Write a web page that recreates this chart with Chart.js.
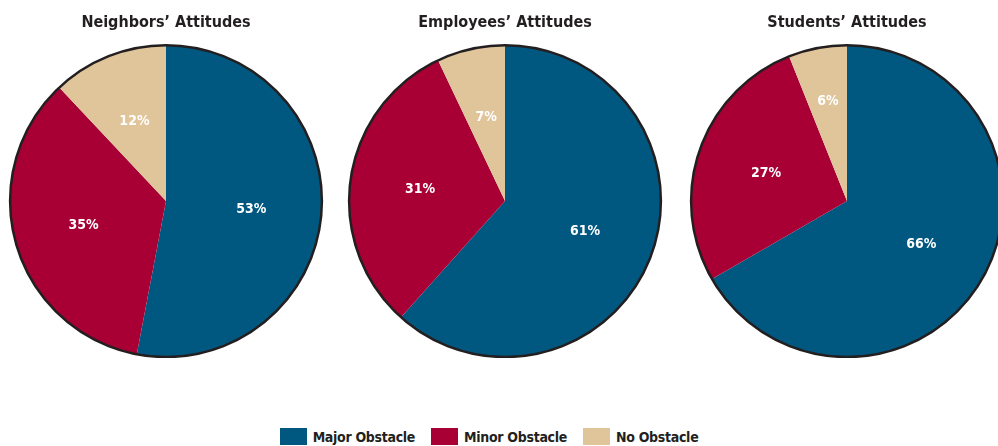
<!DOCTYPE html>
<html lang="en">
<head>
  <meta charset="UTF-8">
  <title>Attitudes</title>
  <script src="https://cdn.jsdelivr.net/npm/chart.js"></script>
  <style>
    body {
      margin: 0;
      width: 998px;
      height: 446px;
      overflow: hidden;
      background: #fff;
      font-family: "DejaVu Sans Condensed", "Liberation Sans Narrow", Arial, sans-serif;
      position: relative;
    }
    .torta {
      position: absolute;
      top: 0;
      width: 320px;
      height: 358px;
    }
    #legenda {
      position: absolute;
      top: 428px;
      left: -10px;
      width: 998px;
      display: flex;
      justify-content: center;
      font-weight: bold;
      font-size: 14px;
      color: #231f20;
    }
    #legenda span.voce {
      display: flex;
      align-items: center;
      margin: 0 8px;
      letter-spacing: -0.3px;
    }
    #legenda span.box {
      display: inline-block;
      width: 27px;
      height: 17px;
      margin-right: 6px;
    }
  </style>
</head>
<body>
  <div class="torta" style="left:6px"><canvas id="c0"></canvas></div>
  <div class="torta" style="left:345px"><canvas id="c1"></canvas></div>
  <div class="torta" style="left:687px"><canvas id="c2"></canvas></div>
  <div id="legenda"></div>

  <script>
    const categorie = ['Major Obstacle', 'Minor Obstacle', 'No Obstacle'];
    const colori = ['#005880', '#a80034', '#e0c49a'];
    const titoli = ['Neighbors\u2019 Attitudes', 'Employees\u2019 Attitudes', 'Students\u2019 Attitudes'];
    const vicini = [53, 35, 12];
    const dipendenti = [61, 31, 7];
    const studenti = [66, 27, 6];
    const serie = [vicini, dipendenti, studenti];

    const FONT = '"DejaVu Sans Condensed", "Liberation Sans Narrow", Arial, sans-serif';

    // bordo esterno + etichette percentuali
    const extra = {
      id: 'extra',
      afterDatasetsDraw(chart) {
        const ctx = chart.ctx;
        const archi = chart.getDatasetMeta(0).data;
        if (!archi.length) return;
        const a0 = archi[0];
        ctx.save();
        ctx.beginPath();
        ctx.arc(a0.x, a0.y, a0.outerRadius, 0, Math.PI * 2);
        ctx.lineWidth = 2.5;
        ctx.strokeStyle = '#231f20';
        ctx.stroke();

        ctx.fillStyle = '#fff';
        ctx.font = 'bold 14px ' + FONT;
        ctx.textAlign = 'center';
        ctx.textBaseline = 'middle';
        archi.forEach((arc, i) => {
          const mid = (arc.startAngle + arc.endAngle) / 2;
          const quota = chart.data.datasets[0].data[i];
          const r = arc.outerRadius * (quota < 7 ? 0.65 : 0.55);
          ctx.fillText(quota + '%', arc.x + Math.cos(mid) * r, arc.y + Math.sin(mid) * r);
        });
        ctx.restore();
      }
    };

    serie.forEach((valori, k) => {
      const ctx = document.getElementById('c' + k).getContext('2d');
      new Chart(ctx, {
        type: 'pie',
        data: {
          labels: categorie,
          datasets: [{
            data: valori,
            backgroundColor: colori,
            borderWidth: 0
          }]
        },
        options: {
          responsive: true,
          maintainAspectRatio: false,
          animation: false,
          layout: { padding: { left: 0, right: 0, top: 0, bottom: 1 } },
          plugins: {
            legend: { display: false },
            tooltip: { enabled: false },
            title: {
              display: true,
              text: titoli[k],
              color: '#231f20',
              font: { family: FONT, size: 16, weight: 'bold' },
              padding: { top: 13, bottom: 13 }
            }
          }
        },
        plugins: [extra]
      });
    });

    const leg = document.getElementById('legenda');
    categorie.forEach((c, i) => {
      const v = document.createElement('span');
      v.className = 'voce';
      v.innerHTML = '<span class="box" style="background:' + colori[i] + '"></span>' + c;
      leg.appendChild(v);
    });
  </script>
</body>
</html>
